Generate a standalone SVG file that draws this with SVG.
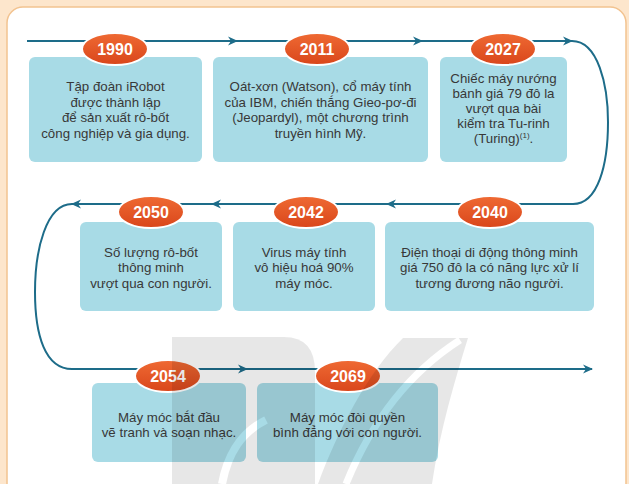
<svg xmlns="http://www.w3.org/2000/svg" width="629" height="484" viewBox="0 0 629 484">
<defs>
<style>
.box{fill:#a8dbe6}
.yr{stroke:#fff;stroke-width:2;fill:url(#og)}
.yt{font-family:"Liberation Sans",Arial,sans-serif;font-weight:bold;font-size:16px;fill:#fff;text-anchor:middle}
.tx{font-family:"Liberation Sans",Arial,sans-serif;font-size:13.3px;fill:#383838;text-anchor:middle}
.ln{fill:none;stroke:#1d6c89;stroke-width:2}
.ah{fill:#1d6c89}
</style>
<linearGradient id="og" x1="0" y1="0" x2="0" y2="1">
<stop offset="0" stop-color="#ef6a33"/>
<stop offset="1" stop-color="#d9461b"/>
</linearGradient>
<path id="arR" d="M0,0 L-10,-4.5 L-7,0 L-10,4.5 Z"/>
<path id="arL" d="M0,0 L10,-4.5 L7,0 L10,4.5 Z"/>
<mask id="wm">
<rect x="0" y="0" width="629" height="484" fill="#fff"/>
<path d="M222,484 C228,452 242,432 266,420" fill="none" stroke="#000" stroke-width="8"/>
<path d="M346,484 C372,420 410,372 460,340" fill="none" stroke="#000" stroke-width="7"/>
</mask>
</defs>
<rect x="0" y="0" width="629" height="484" fill="#fde6cc"/>
<rect x="7" y="7" width="619" height="500" rx="16" fill="#fff" stroke="#f2c390" stroke-width="1.5"/>

<g id="connectors">
<path class="ln" d="M27,41 H572"/>
<path class="ln" d="M572,41 C598,41 608,85 608,122 C608,165 598,204 573,204 H72"/>
<path class="ln" d="M72,204 C46,204 35,250 35,292 C35,335 45,369 72,369 H592"/>
<use href="#arR" x="238" y="41" class="ah"/>
<use href="#arR" x="423" y="41" class="ah"/>
<use href="#arR" x="573" y="41" class="ah"/>
<use href="#arL" x="386" y="204" class="ah"/>
<use href="#arL" x="211" y="204" class="ah"/>
<use href="#arL" x="71" y="204" class="ah"/>
<use href="#arR" x="248" y="369" class="ah"/>
<use href="#arR" x="593" y="369" class="ah"/>
</g>

<g id="n1990">
<rect class="box" x="29" y="57" width="173" height="105" rx="6"/>
<ellipse class="yr" cx="115" cy="49" rx="33" ry="16"/>
<text class="yt" x="115" y="55">1990</text>
<text class="tx" x="115.5" y="91">Tập đoàn iRobot</text>
<text class="tx" x="115.5" y="106.5">được thành lập</text>
<text class="tx" x="115.5" y="122">để sản xuất rô-bốt</text>
<text class="tx" x="115.5" y="137.5">công nghiệp và gia dụng.</text>
</g>

<g id="n2011">
<rect class="box" x="213" y="57" width="215" height="105" rx="6"/>
<ellipse class="yr" cx="317" cy="49" rx="33" ry="16"/>
<text class="yt" x="317" y="55">2011</text>
<text class="tx" x="320.5" y="91">Oát-xơn (Watson), cổ máy tính</text>
<text class="tx" x="320.5" y="106.5">của IBM, chiến thắng Gieo-pơ-đi</text>
<text class="tx" x="320.5" y="122">(Jeopardyl), một chương trình</text>
<text class="tx" x="320.5" y="137.5">truyền hình Mỹ.</text>
</g>

<g id="n2027">
<rect class="box" x="440" y="57" width="127" height="105" rx="6"/>
<ellipse class="yr" cx="503" cy="49" rx="33" ry="16"/>
<text class="yt" x="503" y="55">2027</text>
<text class="tx" x="503.5" y="83">Chiếc máy nướng</text>
<text class="tx" x="503.5" y="98">bánh giá 79 đô la</text>
<text class="tx" x="503.5" y="113">vượt qua bài</text>
<text class="tx" x="503.5" y="128">kiểm tra Tu-rinh</text>
<text class="tx" x="503.5" y="143">(Turing)<tspan font-size="8" dy="-5">(1)</tspan><tspan dy="5">.</tspan></text>
</g>

<g id="n2040">
<rect class="box" x="385" y="222" width="209" height="89" rx="6"/>
<ellipse class="yr" cx="490" cy="212" rx="33" ry="16"/>
<text class="yt" x="490" y="218">2040</text>
<text class="tx" x="489.5" y="256.5">Điện thoại di động thông minh</text>
<text class="tx" x="489.5" y="272">giá 750 đô la có năng lực xử lí</text>
<text class="tx" x="489.5" y="287.5">tương đương não người.</text>
</g>

<g id="n2042">
<rect class="box" x="233" y="222" width="142" height="89" rx="6"/>
<ellipse class="yr" cx="306" cy="212" rx="33" ry="16"/>
<text class="yt" x="306" y="218">2042</text>
<text class="tx" x="304" y="256.5">Virus máy tính</text>
<text class="tx" x="304" y="272">vô hiệu hoá 90%</text>
<text class="tx" x="304" y="287.5">máy móc.</text>
</g>

<g id="n2050">
<rect class="box" x="80" y="222" width="142" height="89" rx="6"/>
<ellipse class="yr" cx="151" cy="212" rx="33" ry="16"/>
<text class="yt" x="151" y="218">2050</text>
<text class="tx" x="151" y="256.5">Số lượng rô-bốt</text>
<text class="tx" x="151" y="272">thông minh</text>
<text class="tx" x="151" y="287.5">vượt qua con người.</text>
</g>

<g id="n2054">
<rect class="box" x="92" y="383" width="154" height="79" rx="6"/>
<ellipse class="yr" cx="168" cy="376" rx="33" ry="16"/>
<text class="yt" x="168" y="382">2054</text>
<text class="tx" x="169" y="421.5">Máy móc bắt đầu</text>
<text class="tx" x="169" y="437">vẽ tranh và soạn nhạc.</text>
</g>

<g id="n2069">
<rect class="box" x="257" y="383" width="181" height="79" rx="6"/>
<ellipse class="yr" cx="348" cy="376" rx="33" ry="16"/>
<text class="yt" x="348" y="382">2069</text>
<text class="tx" x="347.5" y="421.5">Máy móc đòi quyền</text>
<text class="tx" x="347.5" y="437">bình đẳng với con người.</text>
</g>

<g id="watermark" fill="#000" opacity="0.09" mask="url(#wm)">
<path d="M172,337 H284 Q315,337 315,372 V484 H172 Z"/>
<path d="M403,338 H468 C455,380 440,430 432,484 H318 C338,430 368,372 403,338 Z"/>
</g>
</svg>
